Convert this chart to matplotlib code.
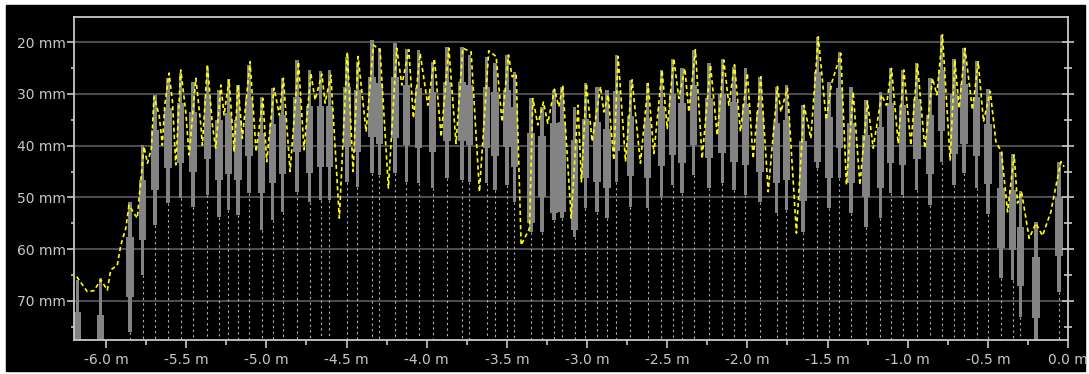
import matplotlib
matplotlib.use("Agg")
import matplotlib.pyplot as plt
from matplotlib.ticker import MultipleLocator, FuncFormatter
from matplotlib.patches import Rectangle

# candle positions (m) and depths (mm): wick top, body top, body bottom, wick bottom
pos = [-6.179, -6.033, -5.850, -5.771, -5.694, -5.613, -5.534, -5.457, -5.368, -5.295,
       -5.237, -5.178, -5.108, -5.029, -4.960, -4.898, -4.810, -4.731, -4.661, -4.607,
       -4.498, -4.432, -4.341, -4.295, -4.197, -4.128, -4.051, -3.962, -3.874, -3.781,
       -3.734, -3.626, -3.574, -3.500, -3.453, -3.349, -3.280, -3.207, -3.155, -3.078,
       -3.010, -2.937, -2.875, -2.817, -2.729, -2.621, -2.536, -2.465, -2.407, -2.334,
       -2.240, -2.157, -2.084, -2.012, -1.922, -1.818, -1.756, -1.652, -1.564, -1.490,
       -1.427, -1.354, -1.261, -1.170, -1.107, -1.032, -0.943, -0.860, -0.789, -0.710,
       -0.648, -0.569, -0.498, -0.419, -0.346, -0.298, -0.200, -0.055]
wick_top = [65.9, 65.6, 50.8, 39.9, 30.2, 27.0, 26.0, 27.7, 25.2, 29.3,
            27.1, 28.3, 24.4, 30.6, 28.8, 27.0, 23.5, 25.4, 25.5, 25.4,
            22.8, 23.8, 19.7, 21.2, 20.1, 21.4, 21.5, 23.8, 20.9, 20.9,
            22.5, 22.8, 24.1, 22.5, 25.7, 30.9, 32.5, 29.3, 28.6, 32.5,
            28.0, 28.6, 29.3, 22.5, 27.3, 28.0, 25.4, 23.2, 25.1, 21.5,
            24.0, 23.2, 24.8, 25.1, 26.7, 28.6, 28.3, 32.2, 19.0, 27.7,
            22.0, 28.6, 31.2, 29.6, 25.0, 25.4, 24.1, 27.0, 18.6, 23.2,
            21.2, 23.7, 29.1, 41.2, 41.7, 48.8, 54.7, 43.1]
body_top = [72.1, 72.7, 57.6, 46.6, 37.0, 32.8, 31.8, 33.5, 30.9, 35.1,
            33.8, 35.1, 30.8, 37.5, 35.8, 34.1, 30.6, 32.4, 32.4, 32.4,
            28.6, 29.3, 26.7, 28.0, 26.7, 28.3, 28.9, 29.6, 27.7, 27.7,
            28.3, 28.6, 29.6, 29.3, 32.5, 37.6, 38.2, 35.7, 35.4, 38.9,
            34.9, 35.4, 36.7, 29.5, 34.2, 34.7, 32.3, 30.1, 31.8, 28.3,
            30.8, 30.1, 31.5, 32.0, 33.5, 35.6, 35.1, 39.1, 25.8, 34.4,
            28.8, 35.7, 38.0, 36.4, 31.8, 32.2, 31.0, 34.0, 25.4, 30.1,
            28.2, 30.6, 35.9, 48.1, 48.6, 55.7, 61.6, 49.9]
body_bot = [80.0, 80.0, 69.2, 58.2, 48.6, 44.4, 43.4, 45.0, 42.6, 46.6,
            45.5, 46.6, 42.1, 49.1, 47.3, 45.5, 41.2, 45.3, 44.1, 44.1,
            40.2, 41.2, 38.3, 39.6, 38.6, 39.9, 40.5, 41.2, 39.2, 39.2,
            39.9, 40.5, 42.1, 40.2, 44.1, 55.0, 49.9, 53.1, 52.8, 56.3,
            46.3, 47.0, 48.2, 41.0, 45.8, 46.3, 43.9, 41.8, 43.4, 39.9,
            42.3, 41.5, 43.1, 43.7, 45.0, 47.3, 46.6, 50.7, 43.1, 46.2,
            40.5, 47.3, 49.9, 48.1, 43.4, 43.7, 42.6, 45.5, 37.2, 41.7,
            39.7, 42.1, 47.5, 59.7, 60.2, 67.2, 73.2, 61.4]
wick_bot = [80.0, 80.0, 75.9, 65.0, 55.3, 51.1, 50.2, 51.8, 49.5, 53.7,
            52.4, 53.4, 49.2, 56.3, 54.4, 52.8, 48.9, 50.8, 50.5, 50.5,
            47.0, 47.9, 45.3, 45.7, 45.3, 47.1, 47.3, 48.2, 46.3, 46.6,
            47.1, 47.3, 48.6, 47.6, 50.8, 56.6, 56.6, 54.4, 54.0, 57.6,
            52.1, 52.8, 54.0, 47.0, 51.8, 52.1, 49.9, 47.6, 49.2, 45.7,
            48.2, 47.3, 48.6, 49.5, 50.8, 53.1, 52.4, 56.6, 44.4, 52.0,
            46.3, 53.1, 55.7, 53.9, 49.2, 49.5, 48.6, 51.5, 43.1, 47.6,
            45.3, 48.1, 53.3, 65.6, 65.9, 73.0, 80.0, 68.2]

# yellow trace (m, mm)
trace_x = [-6.183, -6.117, -6.075, -6.033, -5.992, -5.971, -5.930, -5.908, -5.877, -5.857,
           -5.825, -5.805, -5.794, -5.763, -5.742, -5.717, -5.701, -5.669, -5.649, -5.634,
           -5.607, -5.586, -5.565, -5.534, -5.503, -5.482, -5.440, -5.409, -5.399, -5.368,
           -5.337, -5.316, -5.284, -5.264, -5.233, -5.201, -5.177, -5.150, -5.102, -5.064,
           -5.022, -4.998, -4.952, -4.919, -4.894, -4.852, -4.800, -4.765, -4.723, -4.696,
           -4.654, -4.634, -4.598, -4.545, -4.495, -4.459, -4.428, -4.378, -4.332, -4.291,
           -4.239, -4.187, -4.155, -4.112, -4.083, -4.041, -3.993, -3.952, -3.910, -3.862,
           -3.817, -3.775, -3.723, -3.671, -3.613, -3.567, -3.530, -3.490, -3.467, -3.442,
           -3.411, -3.359, -3.338, -3.307, -3.272, -3.245, -3.203, -3.176, -3.151, -3.099,
           -3.056, -3.035, -3.004, -2.968, -2.916, -2.895, -2.868, -2.833, -2.806, -2.760,
           -2.719, -2.667, -2.619, -2.583, -2.532, -2.500, -2.459, -2.427, -2.390, -2.365,
           -2.324, -2.282, -2.230, -2.188, -2.147, -2.115, -2.080, -2.043, -2.000, -1.964,
           -1.916, -1.870, -1.812, -1.791, -1.750, -1.694, -1.646, -1.604, -1.558, -1.508,
           -1.475, -1.417, -1.382, -1.340, -1.298, -1.251, -1.215, -1.163, -1.132, -1.101,
           -1.059, -1.024, -0.980, -0.939, -0.893, -0.845, -0.818, -0.783, -0.735, -0.706,
           -0.679, -0.643, -0.596, -0.560, -0.527, -0.485, -0.450, -0.415, -0.377, -0.336,
           -0.315, -0.290, -0.242, -0.200, -0.159, -0.107, -0.070, -0.044, -0.024]
trace_y = [65.3, 68.2, 68.0, 65.9, 67.9, 64.0, 63.1, 59.2, 56.0, 51.5,
           53.1, 54.0, 50.2, 40.2, 43.4, 40.5, 30.6, 34.1, 39.9, 32.2,
           26.0, 31.5, 43.7, 25.4, 33.5, 41.8, 27.0, 36.0, 39.9, 24.3,
           36.0, 40.5, 28.3, 34.1, 27.3, 41.2, 28.3, 38.6, 23.8, 41.2,
           30.9, 43.1, 28.9, 34.1, 27.0, 45.0, 23.8, 40.8, 26.0, 31.2,
           26.2, 31.8, 26.4, 54.0, 21.9, 45.0, 22.8, 37.3, 20.6, 21.5,
           48.2, 21.2, 28.3, 21.5, 34.7, 22.2, 32.2, 23.2, 38.3, 21.2,
           39.6, 21.2, 21.9, 48.9, 21.7, 22.8, 35.4, 22.5, 26.7, 26.2,
           59.2, 56.0, 30.9, 36.0, 31.6, 35.7, 29.1, 32.5, 28.4, 54.0,
           32.2, 47.0, 28.0, 39.2, 28.6, 33.5, 30.2, 42.8, 22.8, 43.1,
           27.3, 43.4, 28.0, 41.5, 25.4, 36.7, 23.2, 30.9, 25.1, 33.5,
           21.5, 42.5, 24.4, 38.0, 23.5, 32.2, 24.4, 37.3, 26.0, 42.5,
           26.7, 48.9, 28.6, 33.5, 28.9, 56.9, 32.2, 38.6, 19.0, 35.0,
           28.0, 22.2, 47.6, 29.6, 47.6, 31.4, 40.5, 30.2, 32.2, 25.1,
           39.6, 25.4, 39.9, 24.3, 40.5, 27.0, 30.2, 18.6, 42.8, 23.5,
           32.8, 21.2, 33.1, 23.8, 35.4, 29.5, 39.2, 41.2, 52.8, 41.8,
           51.1, 48.9, 57.9, 55.0, 57.4, 52.8, 47.0, 43.1, 44.1]

y_lo, y_hi = 15.17, 77.53
x_lo, x_hi = -6.2, 0.0

fig = plt.figure(figsize=(10.89, 3.74), dpi=100, facecolor='white')
fig.patches.append(Rectangle((6 / 1089, 3 / 374), 1079 / 1089, 366 / 374,
                             transform=fig.transFigure, color='black', zorder=-10))
ax = fig.add_axes([74 / 1089, 34 / 374, 994 / 1089, 323 / 374])
ax.set_facecolor('black')

ax.set_xlim(x_lo, x_hi)
ax.set_ylim(y_hi, y_lo)

# grid
for g in [20, 30, 40, 50, 60, 70]:
    ax.axhline(g, color='#555555', lw=1.3, zorder=1)

# dotted drop lines under each candle
ax.vlines(pos, wick_bot, y_hi, colors='#b4b4b4', lw=0.8, linestyles=(0, (2, 3)), zorder=2)

# candles
ax.bar(pos, [b - t for t, b in zip(wick_top, wick_bot)], bottom=wick_top,
       width=0.021, color='#838383', lw=0, zorder=3)
ax.bar(pos, [b - t for t, b in zip(body_top, body_bot)], bottom=body_top,
       width=0.046, color='#838383', lw=0, zorder=3)

# yellow trace
ax.plot(trace_x, trace_y, color='#ffff00', lw=1.2, linestyle=(0, (2.5, 1.8)), zorder=4)

# axes styling
for s in ax.spines.values():
    s.set_color('#c8c8c8')
    s.set_linewidth(1.3)
    s.set_zorder(5)

ax.xaxis.set_major_locator(MultipleLocator(0.5))
ax.xaxis.set_minor_locator(MultipleLocator(0.25))
ax.yaxis.set_major_locator(MultipleLocator(10))
ax.yaxis.set_minor_locator(MultipleLocator(5))
ax.xaxis.set_major_formatter(FuncFormatter(lambda v, p: f'{v:.1f} m'))
ax.yaxis.set_major_formatter(FuncFormatter(lambda v, p: f'{v:.0f} mm'))

ax.tick_params(axis='both', which='both', colors='#c8c8c8', labelcolor='#c8c8c8',
               labelsize=10, width=1.2)
ax.tick_params(axis='x', which='major', length=6, pad=3)
ax.tick_params(axis='x', which='minor', length=3.5)
ax.tick_params(axis='y', which='major', length=5, pad=1)
ax.tick_params(axis='y', which='minor', length=2.5)

# right side ticks straddle the frame
axr = ax.twinx()
axr.set_ylim(y_hi, y_lo)
axr.yaxis.set_major_locator(MultipleLocator(10))
axr.yaxis.set_minor_locator(MultipleLocator(5))
axr.tick_params(axis='y', which='major', direction='inout', length=9, width=1.2,
                colors='#c8c8c8', labelright=False)
axr.tick_params(axis='y', which='minor', direction='inout', length=6, width=1.2,
                colors='#c8c8c8')
axr.set_yticklabels([])
for s in axr.spines.values():
    s.set_visible(False)

fig.savefig('out.png', dpi=100, facecolor=fig.get_facecolor())
